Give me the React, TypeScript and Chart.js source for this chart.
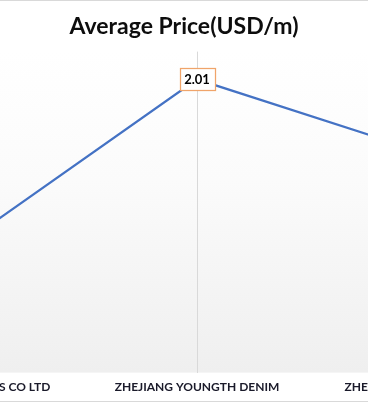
import React, { useEffect, useRef } from "react";
import { Chart, registerables } from "chart.js";

Chart.register(...registerables);

const chartTitle = "Average Price(USD/m)";
const categories = ["SHAOXING FABRICS CO LTD", "ZHEJIANG YOUNGTH DENIM", "ZHEJIANG JIAXING TEXTILE"];
const averagePrice = [0.92, 2.01, 1.51];
const yMin = 0;
const yMax = 2.2;

const CANVAS_W = 720;
const CANVAS_H = 400;

const plotBackground = {
  id: "plotBackground",
  beforeDraw(chart: any) {
    const { ctx, chartArea } = chart;
    if (!chartArea) return;
    const g = ctx.createLinearGradient(0, chartArea.top, 0, chartArea.bottom);
    g.addColorStop(0, "#ffffff");
    g.addColorStop(0.4, "#fbfbfb");
    g.addColorStop(1, "#efefef");
    ctx.save();
    ctx.fillStyle = g;
    ctx.fillRect(chartArea.left, chartArea.top, chartArea.right - chartArea.left, chartArea.bottom - chartArea.top);
    ctx.restore();
  },
};

const dataLabels = {
  id: "dataLabels",
  afterDatasetsDraw(chart: any) {
    const { ctx } = chart;
    const meta = chart.getDatasetMeta(0);
    const values = chart.data.datasets[0].data as number[];
    ctx.save();
    ctx.font = "bold 13px Lato, 'Open Sans', sans-serif";
    ctx.textAlign = "center";
    ctx.textBaseline = "middle";
    meta.data.forEach((pt: any, i: number) => {
      const text = values[i].toFixed(2);
      const w = Math.round(ctx.measureText(text).width) + 9;
      const h = 22;
      const x = Math.round(pt.x - w / 2) + 0.5;
      const y = Math.round(pt.y - h / 2) + 0.5;
      ctx.fillStyle = "#ffffff";
      ctx.fillRect(x, y, w, h);
      ctx.strokeStyle = "#F0A46A";
      ctx.lineWidth = 1.25;
      ctx.strokeRect(x, y, w, h);
      ctx.fillStyle = "#000000";
      ctx.fillText(text, pt.x, pt.y + 0.5);
    });
    ctx.restore();
  },
};

export default function App() {
  const canvasRef = useRef<HTMLCanvasElement>(null);

  useEffect(() => {
    const canvas = canvasRef.current;
    if (!canvas) return;
    const chart = new Chart(canvas, {
      type: "line",
      data: {
        labels: categories,
        datasets: [
          {
            label: chartTitle,
            data: averagePrice,
            borderColor: "#4472C4",
            borderWidth: 2.25,
            pointRadius: 0,
            tension: 0,
            fill: false,
          },
        ],
      },
      options: {
        responsive: false,
        animation: false,
        devicePixelRatio: 1,
        layout: { padding: { left: 8, right: 8, top: 0, bottom: 0 } },
        plugins: {
          legend: { display: false },
          tooltip: { enabled: false },
          title: {
            display: true,
            text: chartTitle,
            color: "#0d0d0d",
            font: { family: "Lato, 'Open Sans', sans-serif", size: 23, weight: "bold", lineHeight: 1.2 },
            padding: { top: 12, bottom: 11 },
          },
        },
        scales: {
          x: {
            offset: true,
            grid: { display: true, offset: false, color: "#d9d9d9", drawTicks: false, lineWidth: 1 },
            border: { display: false },
            ticks: {
              autoSkip: false,
              maxRotation: 0,
              minRotation: 0,
              padding: 7,
              color: "#1a1a2a",
              font: { family: "Lato, 'Open Sans', sans-serif", size: 12, weight: "bold", lineHeight: 1.2 },
            },
          },
          y: {
            display: true,
            min: yMin,
            max: yMax,
            grid: { display: false },
            border: { display: false },
            ticks: { color: "rgba(0,0,0,0)", font: { size: 10 } },
            afterFit(scale: any) {
              scale.width = 26;
            },
          },
        },
      },
      plugins: [plotBackground, dataLabels],
    });
    return () => chart.destroy();
  }, []);

  return (
    <div
      style={{
        position: "fixed",
        top: 0,
        left: -177,
        width: CANVAS_W,
        height: CANVAS_H,
        border: "1px solid #d9d9d9",
        background: "#ffffff",
      }}
    >
      <canvas ref={canvasRef} width={CANVAS_W} height={CANVAS_H} style={{ display: "block" }} />
    </div>
  );
}
